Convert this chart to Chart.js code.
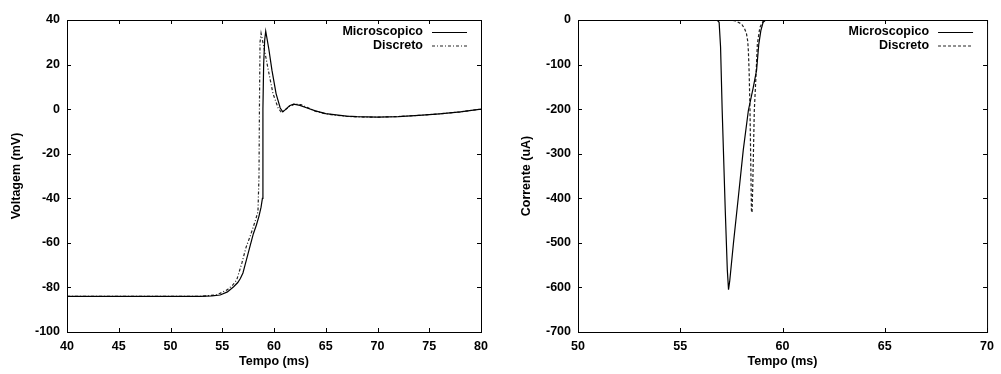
<!DOCTYPE html>
<html>
<head>
<meta charset="utf-8">
<script src="https://cdn.jsdelivr.net/npm/chart.js@4"></script>
<style>
  body { margin: 0; background: #fff; }
  #wrap { position: relative; width: 1001px; height: 374px; }
  #voltChart { position: absolute; left: 0; top: 0; }
  #currChart { position: absolute; left: 500px; top: 0; }
</style>
</head>
<body>
<div id="wrap">
  <canvas id="voltChart" width="500" height="374"></canvas>
  <canvas id="currChart" width="501" height="374"></canvas>
</div>
<script>
// ========================
// DATA
// ========================
const seriesLabels = ['Microscopico', 'Discreto'];

// voltage (mV) vs tempo (ms)
const tMicroV = [40, 50, 52.9, 54, 54.8, 55.5, 56.1, 56.5, 56.75, 57.0, 57.2, 57.5, 58.0, 58.3, 58.55, 58.75, 58.88, 58.93, 59.0, 59.1, 59.2, 59.5, 59.8, 60.2, 60.6, 60.85, 61.1, 61.5, 61.9, 62.5, 63.2, 64, 65, 66, 67, 68, 70, 72, 74, 76, 78, 80];
const vMicro  = [-84, -84, -84, -83.8, -83.4, -82, -79.7, -77.8, -76, -73.5, -70, -64.7, -56, -52, -48, -44, -40, 0, 20, 31, 35, 27, 17.5, 7, 0.5, -1.2, -0.2, 1.5, 2.2, 1.7, 0.5, -0.8, -2, -2.6, -3.1, -3.4, -3.6, -3.4, -2.8, -2.1, -1.2, 0];

const tDiscV = [40, 50, 53, 54.5, 55.5, 56.0, 56.4, 56.9, 57.3, 57.7, 58.2, 58.45, 58.55, 58.6, 58.65, 58.75, 59.1, 59.45, 59.9, 60.4, 60.72, 61.0, 61.5, 62.0, 62.6, 63.2, 64, 65, 66, 67, 68, 70, 72, 74, 76, 78, 80];
const vDisc  = [-84, -84, -84, -83.3, -81, -79, -76.6, -69, -62, -57, -50, -46, -30, 5, 30, 34, 26, 17.5, 7, 0.5, -1.5, -0.6, 1.2, 2.3, 2, 0.8, -0.9, -2.1, -2.8, -3.2, -3.5, -3.6, -3.3, -2.8, -2.1, -1.2, 0];

// corrente (uA) vs tempo (ms)
const tMicroI = [50, 56.8, 56.9, 56.97, 57.05, 57.2, 57.3, 57.36, 57.42, 57.6, 57.84, 58.08, 58.33, 58.57, 58.73, 58.84, 58.94, 59.05, 59.15, 59.3, 70];
const iMicro  = [0, 0, -5, -60, -203, -427, -560, -605, -585, -501, -397, -292, -203, -151, -113, -54, -24, -5, -1, 0, 0];

const tDiscI = [50, 57.4, 57.7, 58.0, 58.15, 58.24, 58.3, 58.33, 58.37, 58.41, 58.48, 58.51, 58.54, 58.57, 58.62, 58.7, 58.77, 58.89, 59.05, 59.2, 70];
const iDisc  = [0, 0, -2, -9, -20, -31, -48, -69, -120, -203, -427, -432, -380, -315, -203, -128, -54, -17, -3, 0, 0];

const pts = (xs, ys) => xs.map((x, i) => ({ x: x, y: ys[i] }));

const FONT = 'Liberation Sans, Arial, sans-serif';
const FSIZE = 12.5;

// ========================
// PLUGIN: frame, inward ticks, legend inside
// ========================
const gnuplotFrame = {
    id: 'gnuplotFrame',
    afterDraw(chart) {
        const ctx = chart.ctx;
        const a = chart.chartArea;
        const len = 4;
        ctx.save();
        ctx.strokeStyle = '#000';
        ctx.lineWidth = 1;
        ctx.strokeRect(a.left + 0.5, a.top + 0.5, a.right - a.left, a.bottom - a.top);

        ctx.beginPath();
        const xs = chart.scales.x;
        xs.ticks.forEach(t => {
            const px = Math.round(xs.getPixelForValue(t.value)) + 0.5;
            ctx.moveTo(px, a.bottom); ctx.lineTo(px, a.bottom - len);
            ctx.moveTo(px, a.top); ctx.lineTo(px, a.top + len);
        });
        const ys = chart.scales.y;
        ys.ticks.forEach(t => {
            const py = Math.round(ys.getPixelForValue(t.value)) + 0.5;
            ctx.moveTo(a.left, py); ctx.lineTo(a.left + len, py);
            ctx.moveTo(a.right, py); ctx.lineTo(a.right - len, py);
        });
        ctx.stroke();

        // legend: text then line sample, top right
        ctx.font = 'bold ' + FSIZE + 'px ' + FONT;
        ctx.textAlign = 'right';
        ctx.textBaseline = 'middle';
        ctx.fillStyle = '#000';
        chart.data.datasets.forEach((ds, i) => {
            const y = a.top + 12 + i * 13.5;
            ctx.fillText(ds.label, a.right - 58, y);
            ctx.beginPath();
            ctx.setLineDash(ds.borderDash || []);
            ctx.lineWidth = ds.borderWidth;
            ctx.strokeStyle = ds.borderColor;
            ctx.moveTo(a.right - 49, y + 0.5);
            ctx.lineTo(a.right - 14, y + 0.5);
            ctx.stroke();
        });
        ctx.restore();
    }
};

function makeChart(id, datasets, xOpt, yOpt, areaLeft, padRight, yTitlePad) {
    const font = { family: FONT, size: FSIZE, weight: 'bold' };
    return new Chart(document.getElementById(id), {
        type: 'line',
        data: { datasets: datasets },
        options: {
            responsive: false,
            animation: false,
            layout: { padding: { left: 0, right: padRight, top: 20, bottom: 0 } },
            plugins: {
                legend: { display: false },
                tooltip: { enabled: false }
            },
            elements: { point: { radius: 0 }, line: { tension: 0 } },
            scales: {
                x: {
                    type: 'linear',
                    min: xOpt.min, max: xOpt.max,
                    grid: { display: false, drawTicks: false },
                    border: { display: false },
                    ticks: { stepSize: xOpt.step, padding: 7, color: '#000', font: font },
                    title: { display: true, text: xOpt.title, color: '#000', padding: { top: 0, bottom: 4.5 }, font: font },
                    afterFit(s) { s.height = 42; }
                },
                y: {
                    min: yOpt.min, max: yOpt.max,
                    grid: { display: false, drawTicks: false },
                    border: { display: false },
                    ticks: { stepSize: yOpt.step, padding: 7, color: '#000', font: font },
                    title: { display: true, text: yOpt.title, color: '#000', padding: { top: yTitlePad, bottom: 0 }, font: font },
                    afterFit(s) { s.width = areaLeft; }
                }
            }
        },
        plugins: [gnuplotFrame]
    });
}

makeChart('voltChart', [
    { label: seriesLabels[0], data: pts(tMicroV, vMicro), borderColor: '#000', borderWidth: 1.2, fill: false },
    { label: seriesLabels[1], data: pts(tDiscV, vDisc), borderColor: '#222', borderWidth: 1.2, borderDash: [3, 2, 1, 2], fill: false }
], { min: 40, max: 80, step: 5, title: 'Tempo (ms)' },
   { min: -100, max: 40, step: 20, title: 'Voltagem (mV)' }, 67, 19, 9.5);

makeChart('currChart', [
    { label: seriesLabels[0], data: pts(tMicroI, iMicro), borderColor: '#000', borderWidth: 1.2, fill: false },
    { label: seriesLabels[1], data: pts(tDiscI, iDisc), borderColor: '#222', borderWidth: 1.2, borderDash: [3, 2], fill: false }
], { min: 50, max: 70, step: 5, title: 'Tempo (ms)' },
   { min: -700, max: 0, step: 100, title: 'Corrente (uA)' }, 78, 9, 19.5);
</script>
</body>
</html>
